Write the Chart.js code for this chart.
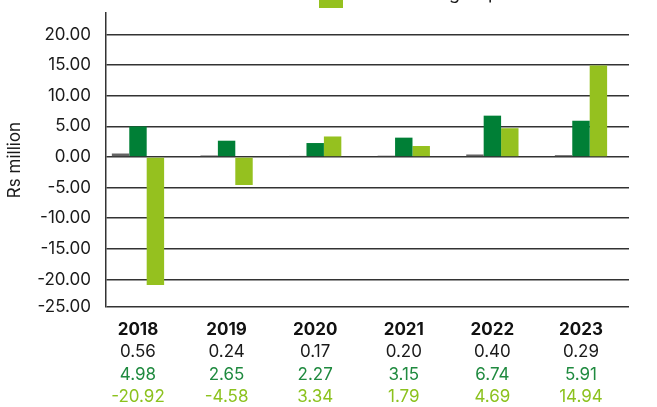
<!DOCTYPE html>
<html>
<head>
<meta charset="utf-8">
<script src="https://cdn.jsdelivr.net/npm/chart.js@4/dist/chart.umd.min.js"></script>
<style>
    html, body { margin: 0; padding: 0; background: #fff; }
    #wrap { width: 657px; height: 407px; }
</style>
</head>
<body>
<div id="wrap"><canvas id="profit-chart" width="657" height="407"></canvas></div>
<script>
const categories = ['2018', '2019', '2020', '2021', '2022', '2023'];
const seriesGrey = [0.56, 0.24, 0.17, 0.20, 0.40, 0.29];
const seriesDark = [4.98, 2.65, 2.27, 3.15, 6.74, 5.91];
const seriesLight = [-20.92, -4.58, 3.34, 1.79, 4.69, 14.94];
const yTicks = [-25, -20, -15, -10, -5, 0, 5, 10, 15, 20];

const seriesLabels = ['Company', 'Subsidiaries', 'Profit for the group'];
const seriesColors = ['#646464', '#007f36', '#95c11f'];
const tableColors = ['#1a1a1a', '#1f8a3f', '#8cc21e'];

const FONT = 'Inter, Lato, sans-serif';
const Y_MIN = -24.5;

// table of values under the bars + the cut-off legend at the top
const tablePlugin = {
    id: 'tablePlugin',
    afterDraw(chart) {
        const ctx = chart.ctx;
        const x = chart.scales.x;
        const rows = [seriesGrey, seriesDark, seriesLight];
        ctx.save();
        ctx.textAlign = 'center';
        ctx.textBaseline = 'middle';
        categories.forEach((cat, i) => {
            const px = x.getPixelForValue(i);
            ctx.font = 'bold 17px ' + FONT;
            ctx.fillStyle = '#111';
            ctx.fillText(cat, px, 330);
            ctx.font = '17px ' + FONT;
            rows.forEach((row, r) => {
                ctx.fillStyle = tableColors[r];
                ctx.fillText(row[i].toFixed(2), px, 352 + r * 22.5);
            });
        });
        // legend entry, mostly above the visible area
        ctx.fillStyle = seriesColors[2];
        ctx.fillRect(319, -16, 24, 24);
        ctx.fillStyle = '#1a1a1a';
        ctx.font = '18px ' + FONT;
        ctx.textAlign = 'right';
        ctx.textBaseline = 'alphabetic';
        ctx.fillText(seriesLabels[2], 499, -1);
        ctx.restore();
    }
};

const datasets = [seriesGrey, seriesDark, seriesLight].map((vals, k) => ({
    label: seriesLabels[k],
    data: vals.map((v, i) => ({ x: i, y: v })),
    backgroundColor: seriesColors[k],
    borderWidth: 0,
    categoryPercentage: 0.59,
    barPercentage: 1.0,
}));

const ctx = document.getElementById('profit-chart').getContext('2d');
const chart = new Chart(ctx, {
    type: 'bar',
    data: { datasets: datasets },
    options: {
        responsive: false,
        animation: false,
        layout: { padding: { top: 13, right: 28, bottom: 100, left: 0 } },
        plugins: {
            legend: { display: false },
            tooltip: { enabled: false },
        },
        scales: {
            x: {
                type: 'linear',
                display: false,
                offset: false,
                min: -0.361,
                max: 5.542,
            },
            y: {
                min: Y_MIN,
                max: 23.5,
                afterBuildTicks(axis) {
                    axis.ticks = yTicks.map(v => ({ value: Math.max(v, Y_MIN) }));
                },
                afterFit(scale) {
                    scale.width = 106;
                    scale.paddingTop = 0;
                    scale.paddingBottom = 0;
                },
                ticks: {
                    color: '#1a1a1a',
                    font: { family: FONT, size: 17 },
                    padding: 15,
                    callback: (v) => (v === Y_MIN ? -25 : v).toFixed(2),
                },
                grid: { color: '#333', lineWidth: 1.5, drawTicks: false },
                border: { display: true, color: '#333', width: 1.5 },
                title: {
                    display: true,
                    text: 'Rs million',
                    color: '#1a1a1a',
                    font: { family: FONT, size: 17 },
                    padding: { top: 5, bottom: 0 },
                },
            },
        },
    },
    plugins: [ tablePlugin ],
});
</script>
</body>
</html>
